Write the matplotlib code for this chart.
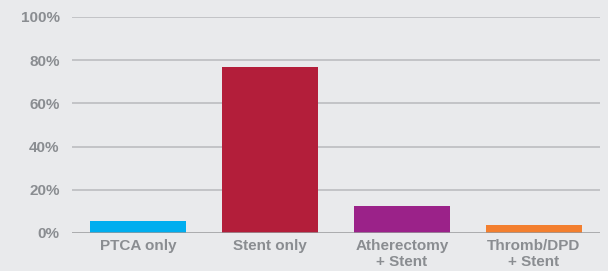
import matplotlib
matplotlib.use("Agg")
import matplotlib.pyplot as plt

categories = ["PTCA only", "Stent only", "Atherectomy\n+ Stent", "Thromb/DPD\n+ Stent"]
values = [5.6, 77.0, 12.5, 3.7]
colors = ["#00aeef", "#b31e3a", "#9b2289", "#f37f2f"]
yticks = [0, 20, 40, 60, 80, 100]
ytick_labels = ["0%", "20%", "40%", "60%", "80%", "100%"]

bg = "#e9eaec"
txt = "#8a8d91"

fig = plt.figure(figsize=(6.08, 2.71), dpi=100, facecolor=bg)
ax = fig.add_axes([72/608, 1 - 233/271, 528/608, 216/271], facecolor=bg)

x = list(range(len(categories)))
ax.bar(x, values, width=0.727, color=colors, zorder=3)
ax.set_xlim(-0.5, 3.5)
ax.set_ylim(0, 100)
ax.set_yticks(yticks)
ax.set_yticklabels(ytick_labels)
ax.set_xticks(x)
ax.set_xticklabels(categories, linespacing=1.2)

for t in yticks[1:]:
    ax.axhline(t, color="#bcbdc0", lw=1.2, zorder=1)
ax.axhline(0, color="#98999c", lw=1.8, zorder=4)

for s in ax.spines.values():
    s.set_visible(False)
ax.tick_params(axis="both", length=0, colors=txt)
ax.tick_params(axis="y", pad=9)
ax.tick_params(axis="x", pad=4)
for lab in ax.get_yticklabels() + ax.get_xticklabels():
    lab.set_fontfamily("Liberation Sans")
    lab.set_fontweight("bold")
    lab.set_fontsize(11)
    lab.set_color(txt)

fig.savefig("out.png", dpi=100, facecolor=bg)
